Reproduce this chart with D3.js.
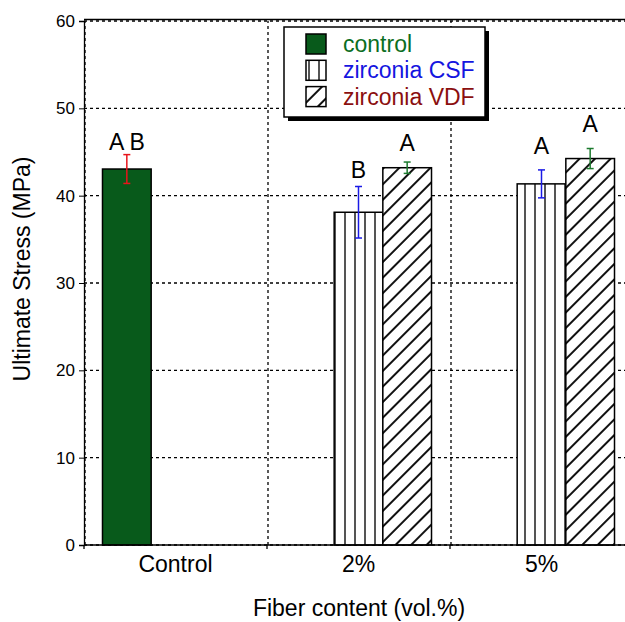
<!DOCTYPE html>
<html>
<head>
<meta charset="utf-8">
<script src="https://cdn.jsdelivr.net/npm/d3@7"></script>
<style>
  body { margin: 0; background: #fff; }
  text { font-family: "Liberation Sans", Arial, sans-serif; }
</style>
</head>
<body>
<script>
var width = 625,
    height = 622;

// categories / series
var categories = ["Control", "2%", "5%"];
var seriesNames = ["control", "zirconia CSF", "zirconia VDF"];

// means per series (null = no bar)
var controlMean = [43.05, null, null];
var csfMean = [null, 38.1, 41.35];
var vdfMean = [null, 43.2, 44.25];

// error (+/-)
var controlErr = [1.65, null, null];
var csfErr = [null, 2.95, 1.6];
var vdfErr = [null, 0.65, 1.15];

// significance letters and the value they sit on
var controlLetters = ["A B", null, null];
var csfLetters = [null, "B", "A"];
var vdfLetters = [null, "A", "A"];
var controlLetterAt = [45.2, null, null];
var csfLetterAt = [null, 42.0, 44.8];
var vdfLetterAt = [null, 45.1, 47.3];

var yTicks = [0, 10, 20, 30, 40, 50, 60];

var margin = {left: 84, top: 21, bottom: 77};
var plotRight = 633;
var bigFont = "23px";

var svg = d3.select("body").append("svg")
    .attr("width", width)
    .attr("height", height);

var defs = svg.append("defs");

// vertical stripes (CSF)
var pv = defs.append("pattern")
    .attr("id", "vstripe")
    .attr("patternUnits", "userSpaceOnUse")
    .attr("width", 10).attr("height", 10);
pv.append("rect").attr("width", 10).attr("height", 10).attr("fill", "#fff");
pv.append("line").attr("x1", 5).attr("x2", 5).attr("y1", 0).attr("y2", 10)
    .attr("stroke", "#555").attr("stroke-width", 2);

// diagonal hatch (VDF)
var pd = defs.append("pattern")
    .attr("id", "diag")
    .attr("patternUnits", "userSpaceOnUse")
    .attr("width", 11).attr("height", 11)
    .attr("patternTransform", "rotate(45)");
pd.append("rect").attr("width", 11).attr("height", 11).attr("fill", "#fff");
pd.append("line").attr("x1", 5).attr("x2", 5).attr("y1", 0).attr("y2", 11)
    .attr("stroke", "#111").attr("stroke-width", 2);

var x = d3.scaleBand().domain(categories).range([margin.left, plotRight]).padding(0);
var xs = d3.scaleBand().domain(seriesNames).range([0, x.bandwidth()]).paddingOuter(0.38).paddingInner(0);
var y = d3.scaleLinear().domain([0, 60]).range([height - margin.bottom - 0, margin.top]);

// grid
var grid = svg.append("g");
grid.selectAll(".hg").data(yTicks).enter().append("line")
    .attr("x1", margin.left).attr("x2", plotRight)
    .attr("y1", function(d) { return y(d); })
    .attr("y2", function(d) { return y(d); })
    .attr("stroke", "#000").attr("stroke-width", 1.3)
    .attr("stroke-dasharray", "3,3");
var vlines = categories.map(function(c) { return x(c); });
grid.selectAll(".vg").data(vlines).enter().append("line")
    .attr("x1", function(d) { return d + 1; }).attr("x2", function(d) { return d + 1; })
    .attr("y1", y(0)).attr("y2", y(60))
    .attr("stroke", "#000").attr("stroke-width", 1.3)
    .attr("stroke-dasharray", "3,3");

var fills = ["#085a1b", "url(#vstripe)", "url(#diag)"];
var errColors = ["#e8141b", "#1a1ae6", "#1c7a2e"];
var textColors = ["#0b6e22", "#1515e0", "#8b0f0f"];

var means = [controlMean, csfMean, vdfMean];
var errs = [controlErr, csfErr, vdfErr];
var letters = [controlLetters, csfLetters, vdfLetters];
var letterAt = [controlLetterAt, csfLetterAt, vdfLetterAt];

var rows = [];
seriesNames.forEach(function(s, si) {
  categories.forEach(function(c, ci) {
    if (means[si][ci] == null) return;
    rows.push({s: s, si: si, c: c, v: means[si][ci], e: errs[si][ci],
               lab: letters[si][ci], labAt: letterAt[si][ci]});
  });
});

var bars = svg.append("g");
bars.selectAll("rect").data(rows).enter().append("rect")
    .attr("x", function(d) { return x(d.c) + xs(d.s); })
    .attr("y", function(d) { return y(d.v); })
    .attr("width", xs.bandwidth())
    .attr("height", function(d) { return y(0) - y(d.v); })
    .attr("fill", function(d) { return fills[d.si]; })
    .attr("stroke", "#000").attr("stroke-width", 1.5);

// error bars
var eb = svg.append("g").selectAll("g").data(rows).enter().append("g")
    .attr("stroke", function(d) { return errColors[d.si]; })
    .attr("stroke-width", 1.5);
function cx(d) { return x(d.c) + xs(d.s) + xs.bandwidth() / 2; }
eb.append("line")
    .attr("x1", cx).attr("x2", cx)
    .attr("y1", function(d) { return y(d.v + d.e); })
    .attr("y2", function(d) { return y(d.v - d.e); });
eb.append("line")
    .attr("x1", function(d) { return cx(d) - 3.5; }).attr("x2", function(d) { return cx(d) + 3.5; })
    .attr("y1", function(d) { return y(d.v + d.e); })
    .attr("y2", function(d) { return y(d.v + d.e); });
eb.append("line")
    .attr("x1", function(d) { return cx(d) - 3.5; }).attr("x2", function(d) { return cx(d) + 3.5; })
    .attr("y1", function(d) { return y(d.v - d.e); })
    .attr("y2", function(d) { return y(d.v - d.e); });

// letters
svg.append("g").selectAll("text").data(rows).enter().append("text")
    .attr("x", cx)
    .attr("y", function(d) { return y(d.labAt); })
    .attr("text-anchor", "middle")
    .style("font-size", bigFont)
    .text(function(d) { return d.lab; });

// axes frame
svg.append("line").attr("x1", margin.left).attr("x2", plotRight)
    .attr("y1", margin.top - 1.5).attr("y2", margin.top - 1.5)
    .attr("stroke", "#000").attr("stroke-width", 1.3);

var yAxis = svg.append("g")
    .attr("transform", "translate(" + margin.left + ",0)")
    .call(d3.axisLeft(y).tickValues(yTicks).tickSize(5).tickPadding(4));
yAxis.select(".domain").attr("stroke-width", 1.3);
yAxis.selectAll("text").style("font-size", "17px")
    .attr("font-family", "Liberation Sans, Arial, sans-serif");

var xAxis = svg.append("g")
    .attr("transform", "translate(0," + y(0) + ")");
xAxis.append("line").attr("x1", margin.left).attr("x2", plotRight)
    .attr("stroke", "#000").attr("stroke-width", 1.3);
xAxis.selectAll(".tk").data(vlines).enter().append("line")
    .attr("x1", function(d) { return d; }).attr("x2", function(d) { return d; })
    .attr("y1", 0).attr("y2", 4)
    .attr("stroke", "#000").attr("stroke-width", 1.3);
xAxis.selectAll(".lbl").data(categories).enter().append("text")
    .attr("x", function(d) { return x(d) + x.bandwidth() / 2; })
    .attr("y", 27)
    .attr("text-anchor", "middle")
    .style("font-size", bigFont)
    .text(function(d) { return d; });

svg.append("text")
    .attr("x", 359).attr("y", 616)
    .attr("text-anchor", "middle")
    .style("font-size", bigFont)
    .text("Fiber content (vol.%)");

svg.append("text")
    .attr("transform", "translate(30,269) rotate(-90)")
    .attr("text-anchor", "middle")
    .style("font-size", bigFont)
    .text("Ultimate Stress (MPa)");

// legend
var lg = svg.append("g").attr("transform", "translate(284,27)");
lg.append("rect").attr("x", 4).attr("y", 4).attr("width", 201).attr("height", 90)
    .attr("fill", "#000");
lg.append("rect").attr("width", 201).attr("height", 90)
    .attr("fill", "#fff").attr("stroke", "#000").attr("stroke-width", 1.5);
var li = lg.selectAll(".li").data(seriesNames).enter().append("g")
    .attr("transform", function(d, i) { return "translate(0," + (7 + i * 26.3) + ")"; });
li.append("rect").attr("x", 22).attr("width", 20).attr("height", 20)
    .attr("fill", function(d, i) { return fills[i]; })
    .attr("stroke", "#000").attr("stroke-width", 1.5);
li.append("text").attr("x", 59).attr("y", 18)
    .attr("fill", function(d, i) { return textColors[i]; })
    .style("font-size", bigFont)
    .text(function(d) { return d; });
</script>
</body>
</html>
